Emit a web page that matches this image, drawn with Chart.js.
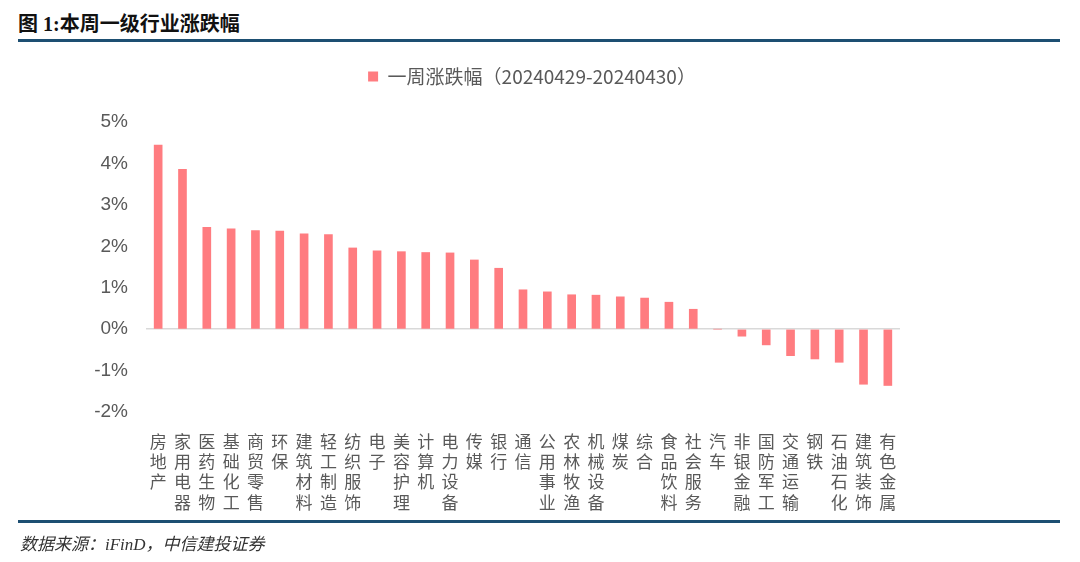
<!DOCTYPE html>
<html>
<head>
<meta charset="utf-8">
<script src="https://cdn.jsdelivr.net/npm/chart.js@4.4.1/dist/chart.umd.min.js"></script>
<style>
  html, body { margin: 0; padding: 0; background: #fff; }
  #wrap { position: relative; width: 1080px; height: 562px; overflow: hidden; background: #fff; }
  #title { position: absolute; left: 18px; top: 8px; line-height: 28px; font: bold 20px "Liberation Serif", "Noto Sans CJK SC", sans-serif; color: #111; }
  .rule { position: absolute; left: 18px; width: 1042px; height: 3px; background: #1d4f72; }
  #footer { position: absolute; left: 20px; top: 530px; line-height: 22px; font: italic 17px "Liberation Serif", "Noto Sans CJK SC", serif; color: #333; }
  #c { position: absolute; left: 0; top: 0; }
</style>
</head>
<body>
<div id="wrap">
  <div id="title">图 1:本周一级行业涨跌幅</div>
  <div class="rule" style="top:39px"></div>
  <canvas id="c" width="1080" height="562"></canvas>
  <div class="rule" style="top:520px"></div>
  <div id="footer">数据来源：iFinD，中信建投证券</div>
</div>
<script>
const categories = ['房地产','家用电器','医药生物','基础化工','商贸零售','环保','建筑材料','轻工制造','纺织服饰','电子','美容护理','计算机','电力设备','传媒','银行','通信','公用事业','农林牧渔','机械设备','煤炭','综合','食品饮料','社会服务','汽车','非银金融','国防军工','交通运输','钢铁','石油石化','建筑装饰','有色金属'];
const weeklyChange = [4.44, 3.86, 2.46, 2.42, 2.38, 2.37, 2.30, 2.28, 1.96, 1.89, 1.87, 1.85, 1.84, 1.67, 1.47, 0.95, 0.90, 0.83, 0.82, 0.78, 0.75, 0.65, 0.48, 0.00, -0.17, -0.38, -0.64, -0.72, -0.80, -1.33, -1.36];
const seriesName = '一周涨跌幅（20240429-20240430）';
const yTicks = [-2, -1, 0, 1, 2, 3, 4, 5];

const gray = '#595959';
const barColor = '#FF7C80';
const cjk = '"Noto Sans CJK SC", "Noto Sans", sans-serif';

const legendSpacer = {
  id: 'legendSpacer',
  beforeInit(chart) {
    const orig = chart.legend.fit;
    chart.legend.fit = function () { orig.call(this); this.height += 26; };
  }
};

new Chart(document.getElementById('c'), {
  type: 'bar',
  data: {
    labels: categories.map(s => s.split('')),
    datasets: [{
      label: seriesName,
      data: weeklyChange,
      backgroundColor: barColor,
      borderWidth: 0,
      barThickness: 8
    }]
  },
  plugins: [legendSpacer],
  options: {
    responsive: false,
    animation: false,
    devicePixelRatio: 1,
    layout: { padding: { left: 0, right: 16, top: 57, bottom: 0 } },
    plugins: {
      legend: {
        display: true,
        position: 'top',
        labels: {
          boxWidth: 10, boxHeight: 10, color: gray,
          font: { family: cjk, size: 19 },
          padding: 10
        }
      },
      tooltip: { enabled: false }
    },
    scales: {
      x: {
        grid: { display: false },
        border: { display: false },
        ticks: {
          color: gray, maxRotation: 0, minRotation: 0, autoSkip: false, padding: 11,
          font: { family: cjk, size: 17, lineHeight: 1.2 }
        },
        afterFit: s => { s.height = 150; }
      },
      y: {
        min: -2, max: 5,
        afterBuildTicks: s => { s.ticks = yTicks.map(v => ({ value: v })); },
        grid: {
          drawTicks: false,
          color: ctx => (ctx.tick && ctx.tick.value === 0) ? '#d9d9d9' : 'rgba(0,0,0,0)',
          lineWidth: 1.5
        },
        border: { display: false },
        ticks: {
          color: gray, padding: 18,
          font: { family: 'Arial, "Liberation Sans", sans-serif', size: 19 },
          callback: v => v + '%'
        },
        afterFit: s => { s.width = 146; }
      },
      yRight: {
        position: 'right',
        display: true,
        grid: { display: false },
        border: { display: false },
        ticks: { display: false },
        afterFit: s => { s.width = 164; }
      }
    }
  }
});
</script>
</body>
</html>
